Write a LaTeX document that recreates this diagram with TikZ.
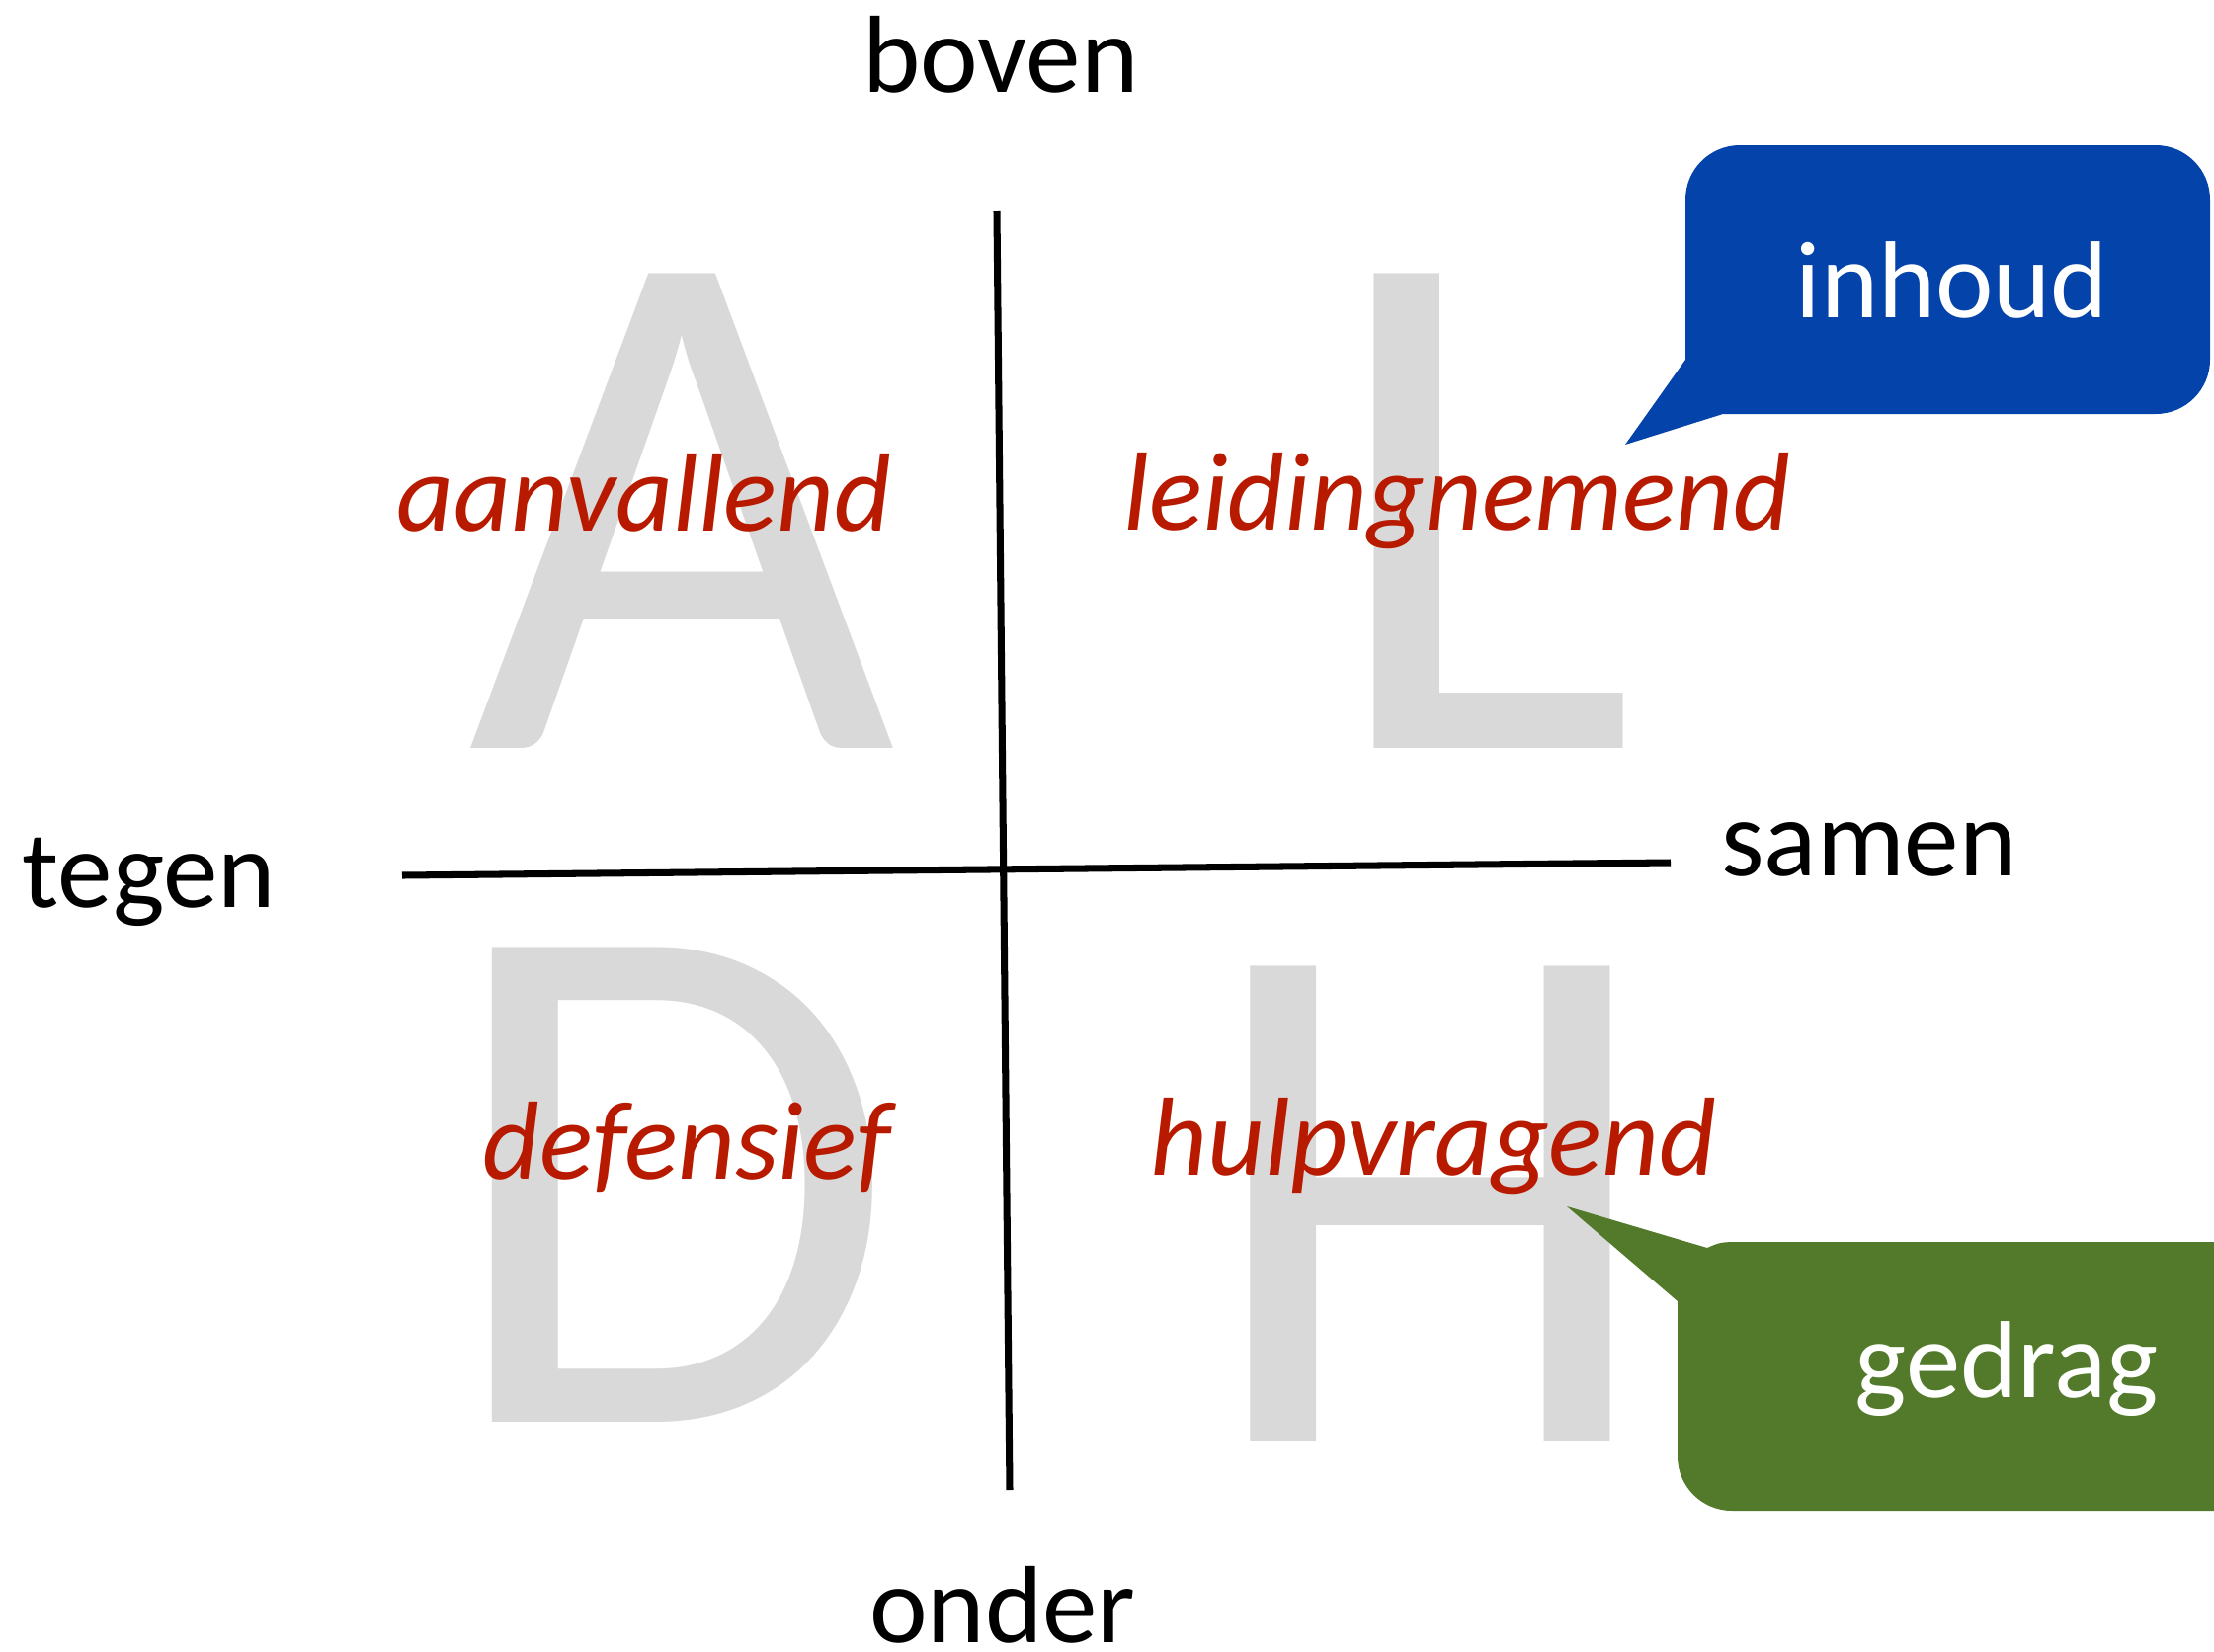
\documentclass[tikz,border=0pt]{standalone}
\usepackage{fontspec}
\setmainfont{Carlito}
\usetikzlibrary{shapes}
\definecolor{letgray}{RGB}{217,217,217}
\definecolor{labelred}{RGB}{184,26,0}
\definecolor{callblue}{RGB}{3,67,170}
\definecolor{callgreen}{RGB}{82,122,42}
\tikzstyle{bigletter}=[anchor=base,inner sep=0pt,text=letgray,font=\fontsize{213}{213}\selectfont]
\tikzstyle{axislabel}=[anchor=base,inner sep=0pt,font=\fontsize{31.6}{38}\selectfont]
\tikzstyle{quadlabel}=[anchor=base,inner sep=0pt,text=labelred,font=\fontsize{32}{38}\selectfont\itshape]
\tikzstyle{calltext}=[anchor=base,inner sep=0pt,text=white,font=\fontsize{31.5}{38}\selectfont]
\tikzstyle{axis} = [draw,line width=2pt,-]

\begin{document}
\begin{tikzpicture}[x=0.01cm,y=-0.01cm]
    \useasboundingbox (0,0) rectangle (2241,1672);
    % Big grey letters behind the quadrants
    \foreach \pos/\name/\txt in {{(690,757)/letA/A}, {(1498,757)/letL/L},
        {(678,1439)/letD/D}, {(1448,1458)/letH/H}}
        \node[bigletter] (\name) at \pos {\txt};
    % The two axes
    \coordinate (top) at (1009,214);
    \coordinate (bottom) at (1022,1508);
    \coordinate (left) at (407,886);
    \coordinate (right) at (1691,873);
    \path[axis] (top) -- (bottom);
    \path[axis] (left) -- (right);
    % Axis ends
    \foreach \pos/\name/\txt in {{(1013,93)/boven/boven}, {(1015,1662)/onder/onder},
        {(151,918)/tegen/tegen}, {(1892,886)/samen/samen}}
        \node[axislabel] (\name) at \pos {\txt};
    % Quadrant labels
    \foreach \pos/\name/\txt in {{(652,537)/aanv/aanvallend}, {(1475,536)/leid/leidingnemend},
        {(695,1193)/def/defensief}, {(1451,1189)/hulp/hulpvragend}}
        \node[quadlabel] (\name) at \pos {\txt};
    % Callouts
    \fill[callblue] (1706,364) -- (1645,450) -- (1744,419)
        [rounded corners=0.55cm] -- (2237,419) -- (2237,147) -- (1706,147)
        [sharp corners] -- cycle;
    \node[calltext] (inhoud) at (1976,321) {inhoud};
    \fill[callgreen] (1698,1317) -- (1586,1221) -- (1728,1263)
        .. controls (1742,1257) .. (1765,1257) -- (2300,1257) -- (2300,1529)
        [rounded corners=0.55cm] -- (1698,1529) -- (1698,1400)
        [sharp corners] -- cycle;
    \node[calltext] (gedrag) at (2031,1414) {gedrag};
\end{tikzpicture}
\end{document}
